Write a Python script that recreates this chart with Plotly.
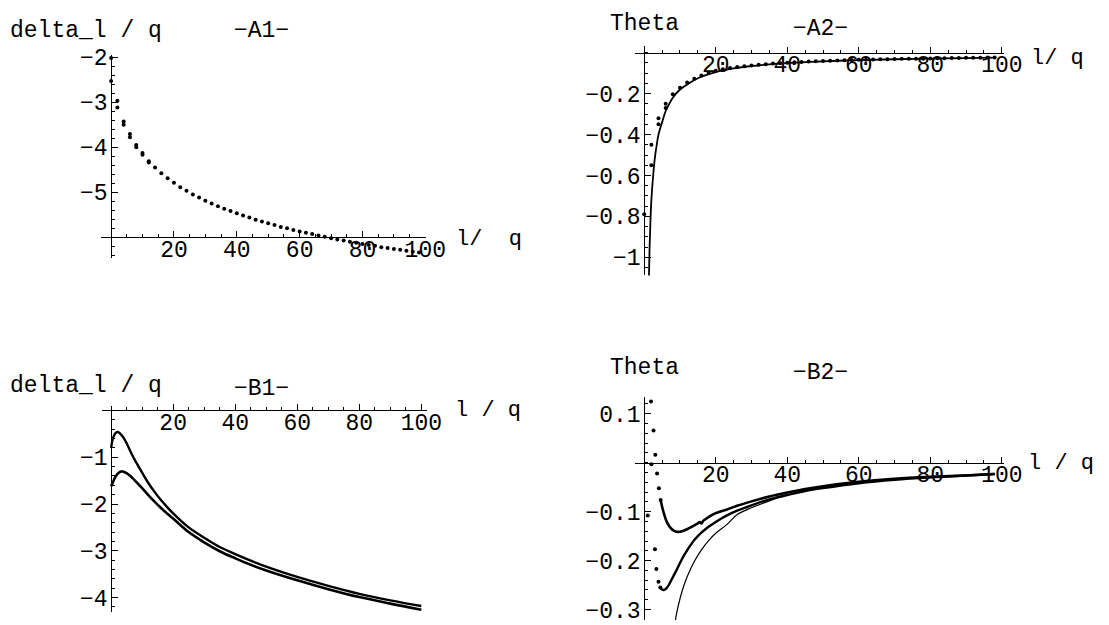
import plotly.graph_objects as go

W, H = 1109, 625          # browser window
OFF = 8                   # default <body> margin of the written page
FW, FH = W - OFF, H - OFF # figure size so that it fills the window exactly
FONT = "Liberation Mono"
MINUS = "\u2212"
NB = "\u00a0"

def pxx(px):
    return (px - OFF) / FW

def pxy(py):
    return 1 - (py - OFF) / FH

# ---------------- data ----------------
# A1 : delta_l / q  (dots, two series; they coincide beyond l~14)
a1_l = [0, 2, 4, 6, 8, 10, 12, 14, 16, 18, 20, 22, 24, 26, 28, 30, 32, 34, 36, 38,
        40, 42, 44, 46, 48, 50, 52, 54, 56, 58, 60, 62, 64, 66, 68, 70, 72, 74, 76, 78,
        80, 82, 84, 86, 88, 90, 92, 94, 96, 98]
a1_delta = [-2.02, -2.97, -3.43, -3.71, -3.95, -4.13, -4.31, -4.45, -4.58, -4.69,
            -4.79, -4.89, -4.97, -5.05, -5.12, -5.19, -5.25, -5.31, -5.37, -5.42,
            -5.47, -5.52, -5.56, -5.61, -5.65, -5.69, -5.73, -5.77, -5.80, -5.84,
            -5.87, -5.90, -5.93, -5.96, -5.99, -6.02, -6.05, -6.07, -6.10, -6.12,
            -6.15, -6.17, -6.19, -6.22, -6.24, -6.26, -6.28, -6.30, -6.32, -6.34]
a1_l_b = [0, 2, 4, 6, 8, 10, 12]
a1_delta_b = [-2.53, -3.12, -3.50, -3.78, -4.00, -4.17, -4.34]

# A2 : Theta  (dots + solid curve)
a2_l = [0, 2, 4, 6, 8, 10, 12, 14, 16, 18, 20, 22, 24, 26, 28, 30, 32, 34, 36, 38,
        40, 42, 44, 46, 48, 50, 52, 54, 56, 58, 60, 62, 64, 66, 68, 70, 72, 74, 76, 78,
        80, 82, 84, 86, 88, 90, 92, 94, 96, 98]
a2_theta = [-0.79, -0.45, -0.32, -0.25, -0.203, -0.171, -0.146, -0.127, -0.111, -0.098,
            -0.088, -0.081, -0.075, -0.070, -0.066, -0.062, -0.059, -0.056, -0.053, -0.051,
            -0.049, -0.047, -0.045, -0.043, -0.042, -0.040, -0.039, -0.038, -0.037, -0.036,
            -0.035, -0.034, -0.033, -0.032, -0.032, -0.031, -0.030, -0.030, -0.029, -0.029,
            -0.028, -0.027, -0.027, -0.026, -0.026, -0.025, -0.025, -0.025, -0.024, -0.024]
a2_l_b = [2, 4, 6]
a2_theta_b = [-0.55, -0.35, -0.27]
a2_curve_l = [1.25, 1.5, 1.75, 2, 2.5, 3, 3.5, 4, 5, 6, 7, 8, 10, 12, 15, 20, 25, 30,
              35, 40, 50, 60, 70, 80, 90, 98]
a2_curve = [-1.15, -0.95, -0.82, -0.72, -0.60, -0.51, -0.45, -0.40, -0.34, -0.285,
            -0.25, -0.22, -0.18, -0.155, -0.125, -0.095, -0.077, -0.065, -0.057, -0.051,
            -0.042, -0.036, -0.032, -0.029, -0.026, -0.024]

# B1 : delta_l / q  (two dense dotted curves)
b1_l = [0, 0.5, 1, 1.5, 2, 2.5, 3, 4, 5, 6, 7, 8, 10, 12, 14, 16, 18, 20, 25, 30,
        35, 40, 45, 50, 60, 70, 80, 90, 100]
b1_upper = [-0.80, -0.62, -0.53, -0.48, -0.46, -0.47, -0.50, -0.58, -0.70, -0.84,
            -0.98, -1.10, -1.33, -1.55, -1.74, -1.91, -2.06, -2.20, -2.50, -2.72,
            -2.92, -3.07, -3.21, -3.34, -3.56, -3.75, -3.92, -4.06, -4.18]
b1_l2 = [0, 0.5, 1, 1.5, 2, 2.5, 3, 3.5, 4, 5, 6, 7, 8, 10, 12, 14, 16, 18, 20, 25,
         30, 35, 40, 45, 50, 60, 70, 80, 90, 100]
b1_lower = [-1.62, -1.55, -1.47, -1.41, -1.36, -1.33, -1.31, -1.30, -1.31, -1.34,
            -1.39, -1.45, -1.52, -1.66, -1.81, -1.95, -2.08, -2.20, -2.31, -2.60,
            -2.82, -3.01, -3.16, -3.30, -3.42, -3.63, -3.82, -3.99, -4.13, -4.26]

# B2 : Theta  (two dotted series + solid curve)
b2_up_start_l = [1.9, 2.6, 3.1, 3.6, 4.1, 4.6]
b2_up_start = [0.125, 0.066, 0.016, -0.022, -0.052, -0.076]
b2_up_l = [4.6, 5.1, 5.6, 6.1, 6.6, 7.1, 7.6, 8.1, 8.6, 9.1, 10, 11, 12, 13, 14, 15,
           15.5, 16, 16.5, 17, 18, 20, 23, 26, 30, 35, 40, 45, 50, 60, 70, 80, 90, 98]
b2_up = [-0.076, -0.093, -0.106, -0.117, -0.125, -0.131, -0.135, -0.138, -0.140, -0.141,
         -0.141, -0.139, -0.136, -0.132, -0.128, -0.124, -0.121, -0.124, -0.119, -0.116,
         -0.111, -0.103, -0.096, -0.088, -0.079, -0.069, -0.061, -0.054, -0.048, -0.039,
         -0.033, -0.029, -0.026, -0.023]
b2_lo_start_l = [1.0, 2.0, 3.0, 3.4, 4.0, 4.5]
b2_lo_start = [-0.108, -0.003, -0.177, -0.217, -0.243, -0.255]
b2_lo_l = [4.5, 5.0, 5.5, 6.0, 6.5, 7, 7.5, 8, 9, 10, 11, 12, 13, 14, 15, 16, 18, 20,
           23, 26, 30, 35, 40, 45, 50, 60, 70, 80, 90, 98]
b2_lo = [-0.255, -0.259, -0.260, -0.258, -0.254, -0.248, -0.241, -0.234, -0.220, -0.205,
         -0.191, -0.179, -0.168, -0.158, -0.150, -0.143, -0.131, -0.121, -0.108, -0.098,
         -0.087, -0.075, -0.066, -0.058, -0.052, -0.042, -0.035, -0.030, -0.026, -0.023]
b2_curve_l = [8.6, 9, 10, 11, 12, 14, 16, 18, 20, 23, 26, 30, 35, 40, 45, 50, 60, 70,
              80, 90, 98]
b2_curve = [-0.33, -0.31, -0.278, -0.253, -0.233, -0.202, -0.178, -0.159, -0.144, -0.127,
            -0.106, -0.092, -0.078, -0.066, -0.057, -0.050, -0.040, -0.034, -0.029,
            -0.026, -0.023]

# ---------------- layout of the four panels (window pixel boxes) ----------------
panels = [
    dict(k="", xpx=(103, 434), xr=(-3.125, 100.3), ypx=(47, 254), yr=(-6.457, -1.957),
         xcross=-6.0, yt=[-2, -3, -4, -5], ytt=None, ymin=0.2),
    dict(k="2", xpx=(647, 1022), xr=(-2.47, 100.5), ypx=(38, 272), yr=(-1.0885, 0.031),
         xcross=0.0, yt=[-0.2, -0.4, -0.6, -0.8, -1],
         ytt=[MINUS + "0.2", MINUS + "0.4", MINUS + "0.6", MINUS + "0.8", MINUS + "1"], ymin=0.05),
    dict(k="3", xpx=(104, 435), xr=(-2.85, 101.9), ypx=(405, 616), yr=(-4.313, 0.104),
         xcross=0.0, yt=[-1, -2, -3, -4], ytt=None, ymin=0.2),
    dict(k="4", xpx=(647, 1022), xr=(-2.47, 100.5), ypx=(396, 624), yr=(-0.3214, 0.1346),
         xcross=0.0, yt=[0.1, -0.1, -0.2, -0.3],
         ytt=["0.1", MINUS + "0.1", MINUS + "0.2", MINUS + "0.3"], ymin=0.02),
]

fig = go.Figure()
layout_axes = {}
tickfont = dict(family=FONT, size=23, color="black")
for p in panels:
    xd = [pxx(p["xpx"][0]), pxx(p["xpx"][1])]
    yd = [pxy(p["ypx"][1]), pxy(p["ypx"][0])]
    xr, yr = p["xr"], p["yr"]
    xpos = yd[0] + (p["xcross"] - yr[0]) / (yr[1] - yr[0]) * (yd[1] - yd[0])
    ypos = xd[0] + (0 - xr[0]) / (xr[1] - xr[0]) * (xd[1] - xd[0])
    k = p["k"]
    layout_axes["xaxis" + k] = dict(
        domain=xd, range=list(xr), anchor="free", position=xpos,
        showline=True, linecolor="black", linewidth=1, showgrid=False, zeroline=False,
        ticks="inside", ticklen=6, tickwidth=1, tickcolor="black",
        tickmode="array", tickvals=[20, 40, 60, 80, 100],
        minor=dict(dtick=5, tick0=0, ticks="inside", ticklen=3, tickcolor="black", showgrid=False),
        tickfont=tickfont, fixedrange=True, ticklabelstandoff=-9, ticklabeloverflow="allow",
    )
    yax = dict(
        domain=yd, range=list(yr), anchor="free", position=ypos,
        showline=True, linecolor="black", linewidth=1, showgrid=False, zeroline=False,
        ticks="inside", ticklen=6, tickwidth=1, tickcolor="black",
        tickmode="array", tickvals=p["yt"],
        minor=dict(dtick=p["ymin"], tick0=0, ticks="inside", ticklen=3, tickcolor="black", showgrid=False),
        tickfont=tickfont, fixedrange=True, ticklabelstandoff=-1, ticklabeloverflow="allow",
    )
    if p["ytt"] is not None:
        yax["ticktext"] = p["ytt"]
    layout_axes["yaxis" + k] = yax

dot = dict(color="black", size=4)

# A1
fig.add_trace(go.Scatter(x=a1_l, y=a1_delta, mode="markers", marker=dot, xaxis="x", yaxis="y"))
fig.add_trace(go.Scatter(x=a1_l_b, y=a1_delta_b, mode="markers", marker=dot, xaxis="x", yaxis="y"))
# A2
fig.add_trace(go.Scatter(x=a2_curve_l, y=a2_curve, mode="lines", line=dict(color="black", width=1.8, shape="spline"),
                         xaxis="x2", yaxis="y2"))
fig.add_trace(go.Scatter(x=a2_l, y=a2_theta, mode="markers", marker=dot, xaxis="x2", yaxis="y2"))
fig.add_trace(go.Scatter(x=a2_l_b, y=a2_theta_b, mode="markers", marker=dot, xaxis="x2", yaxis="y2"))
# B1
fig.add_trace(go.Scatter(x=b1_l, y=b1_upper, mode="lines", line=dict(color="black", width=2.4, shape="spline"),
                         xaxis="x3", yaxis="y3"))
fig.add_trace(go.Scatter(x=b1_l2, y=b1_lower, mode="lines", line=dict(color="black", width=2.6, shape="spline"),
                         xaxis="x3", yaxis="y3"))
# B2
fig.add_trace(go.Scatter(x=b2_curve_l, y=b2_curve, mode="lines", line=dict(color="black", width=1.2, shape="spline"),
                         xaxis="x4", yaxis="y4"))
fig.add_trace(go.Scatter(x=b2_up_start_l, y=b2_up_start, mode="markers", marker=dot, xaxis="x4", yaxis="y4"))
fig.add_trace(go.Scatter(x=b2_up_l, y=b2_up, mode="lines", line=dict(color="black", width=2.6, shape="spline"),
                         xaxis="x4", yaxis="y4"))
fig.add_trace(go.Scatter(x=b2_lo_start_l, y=b2_lo_start, mode="markers", marker=dot, xaxis="x4", yaxis="y4"))
fig.add_trace(go.Scatter(x=b2_lo_l, y=b2_lo, mode="lines", line=dict(color="black", width=2.4, shape="spline"),
                         xaxis="x4", yaxis="y4"))

# ---------------- text labels (window pixels) ----------------
labels = [
    ("delta_l / q", 8, 22, "left", 23),
    ("\u2212A1\u2212", 266, 22, "center", 23),
    ("l/" + NB + NB + "q", 462, 235, "left", 22),
    ("Theta", 619, 15, "left", 23),
    ("\u2212A2\u2212", 836, 20, "center", 23),
    ("l/" + NB + "q", 1048, 50, "left", 22),
    ("delta_l / q", 8, 385, "left", 23),
    ("\u2212B1\u2212", 266, 388, "center", 23),
    ("l" + NB + "/" + NB + "q", 461, 410, "left", 22),
    ("Theta", 619, 367, "left", 23),
    ("\u2212B2\u2212", 836, 372, "center", 23),
    ("l" + NB + "/" + NB + "q", 1045, 464, "left", 22),
]
annotations = []
for txt, px, py, anchor, fs in labels:
    annotations.append(dict(text=txt, x=pxx(px), y=pxy(py), xref="paper", yref="paper",
                            xanchor=anchor, yanchor="middle", showarrow=False,
                            font=dict(family=FONT, size=fs, color="black")))

fig.update_layout(
    width=FW, height=FH, margin=dict(l=0, r=0, t=0, b=0),
    paper_bgcolor="white", plot_bgcolor="white", showlegend=False,
    annotations=annotations, **layout_axes,
)

fig.write_html("out.html", config={"displayModeBar": False})
